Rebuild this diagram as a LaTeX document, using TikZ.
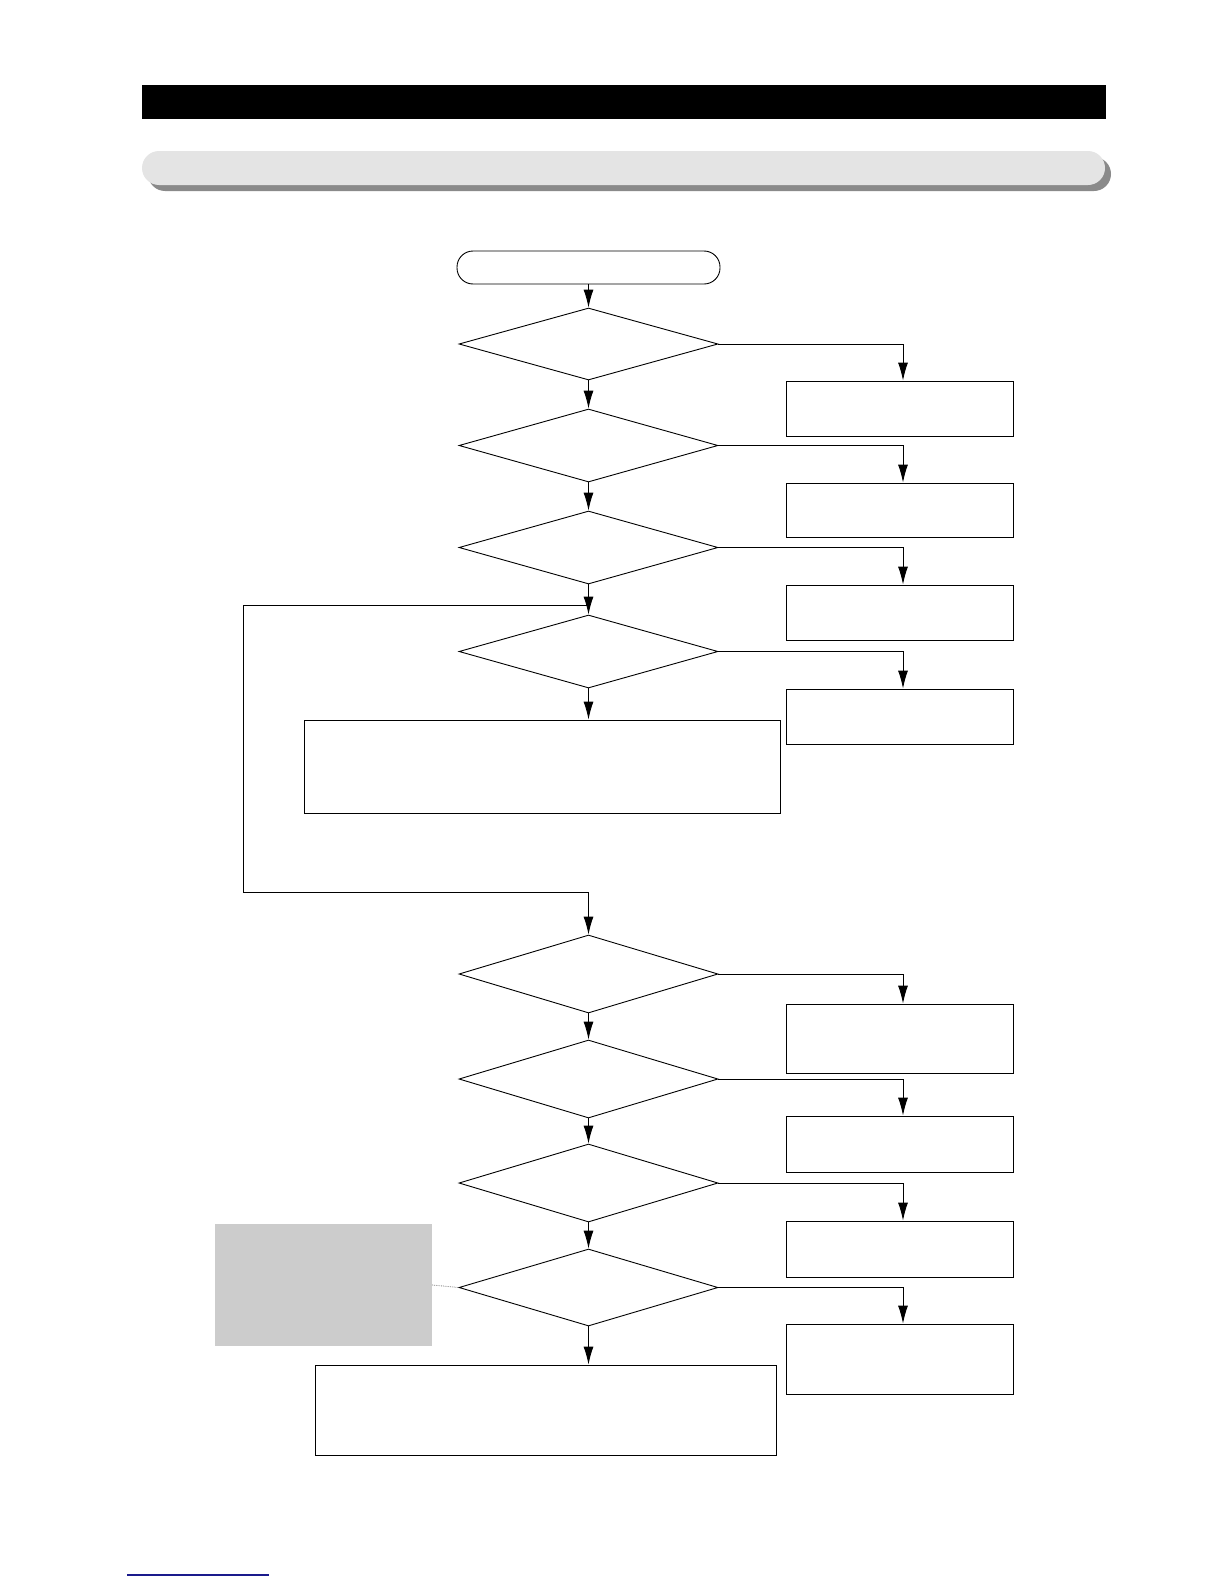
\documentclass[tikz,border=0pt]{standalone}
\usetikzlibrary{shapes.geometric,arrows.meta}
\definecolor{barlight}{HTML}{E4E4E4}
\definecolor{barshadow}{HTML}{8A8A8A}
\definecolor{notegray}{HTML}{CCCCCC}
\definecolor{linkblue}{HTML}{1A1A8C}
\begin{document}
\begin{tikzpicture}[x=1pt,y=-1pt,
  line/.style={line width=0.9pt,black},
  arr/.style={line,-{Latex[length=18pt,width=10pt]}},
  decision/.style={draw,line width=0.9pt,diamond,aspect=3.5,inner sep=0pt,minimum width=259pt,minimum height=#1},
  decision/.default=73pt,
  outbox/.style={draw,line width=0.9pt,rectangle,inner sep=0pt,minimum width=227pt,minimum height=#1},
  outbox/.default=55pt,
  startbox/.style={draw,line width=0.9pt,rectangle,rounded corners=16pt,inner sep=0pt,minimum width=263pt,minimum height=33pt},
  bigbox/.style={draw,line width=0.9pt,rectangle,inner sep=0pt}
]
\useasboundingbox (0,0) rectangle (1224,1584);
% header bars
\fill[black] (142,85) rectangle (1106,119);
\fill[barshadow,rounded corners=17pt] (148,157) rectangle (1111,191);
\fill[barlight,rounded corners=17pt] (142,151) rectangle (1105,185);

% nodes
\node[startbox] (s) at (588.5,267.5) {};
\node[decision=72pt] (d1) at (588.5,344) {};
\node[decision] (d2) at (588.5,445.5) {};
\node[decision] (d3) at (588.5,547.5) {};
\node[decision] (d4) at (588.5,651.5) {};
\node[decision=78pt] (d5) at (588.5,974) {};
\node[decision=78pt] (d6) at (588.5,1079) {};
\node[decision=78pt] (d7) at (588.5,1183) {};
\node[decision=77pt] (d8) at (588.5,1287.5) {};

\node[outbox] (b1) at (899.5,408.5) {};
\node[outbox=54pt] (b2) at (899.5,510) {};
\node[outbox] (b3) at (899.5,612.5) {};
\node[outbox] (b4) at (899.5,716.5) {};
\node[outbox=69pt] (b5) at (899.5,1038.5) {};
\node[outbox=56pt] (b6) at (899.5,1144) {};
\node[outbox=56pt] (b7) at (899.5,1249) {};
\node[outbox=70pt] (b8) at (899.5,1359) {};

\node[bigbox,minimum width=476pt,minimum height=93pt] (r1) at (542,766.5) {};
\node[bigbox,minimum width=461pt,minimum height=90pt] (r2) at (545.5,1410) {};

\node[fill=notegray,inner sep=0pt,minimum width=217pt,minimum height=122pt] (g) at (323.5,1285) {};

% vertical flow
\draw[arr] (s.south) -- (d1.north);
\draw[arr] (d1.south) -- (d2.north);
\draw[arr] (d2.south) -- (d3.north);
\draw[arr] (d3.south) -- (d4.north);
\draw[arr] (d4.south) -- (d4.south |- r1.north);
\draw[arr] (d5.south) -- (d6.north);
\draw[arr] (d6.south) -- (d7.north);
\draw[arr] (d7.south) -- (d8.north);
\draw[arr] (d8.south) -- (d8.south |- r2.north);

% right branches
\foreach \d/\b in {d1/b1,d2/b2,d3/b3,d4/b4,d5/b5,d6/b6,d7/b7,d8/b8}{
  \draw[arr] (\d.east) -| ([xshift=3.5pt]\b.north);
}

% loop
\coordinate (j1) at (588.5,605);
\coordinate (l1) at (243,605);
\coordinate (l2) at (243,892);
\coordinate (l3) at (588.5,892);
\draw[line] (j1) -- (l1) -- (l2) -- (l3);
\draw[arr] (l3) -- (d5.north);

% dotted note link
\draw[gray,line width=0.8pt,densely dotted] (g.east) -- (d8.west);

% blue footer line
\coordinate (f1) at (127,1575);
\coordinate (f2) at (269,1575);
\draw[linkblue,line width=1.5pt] (f1) -- (f2);
\end{tikzpicture}
\end{document}
